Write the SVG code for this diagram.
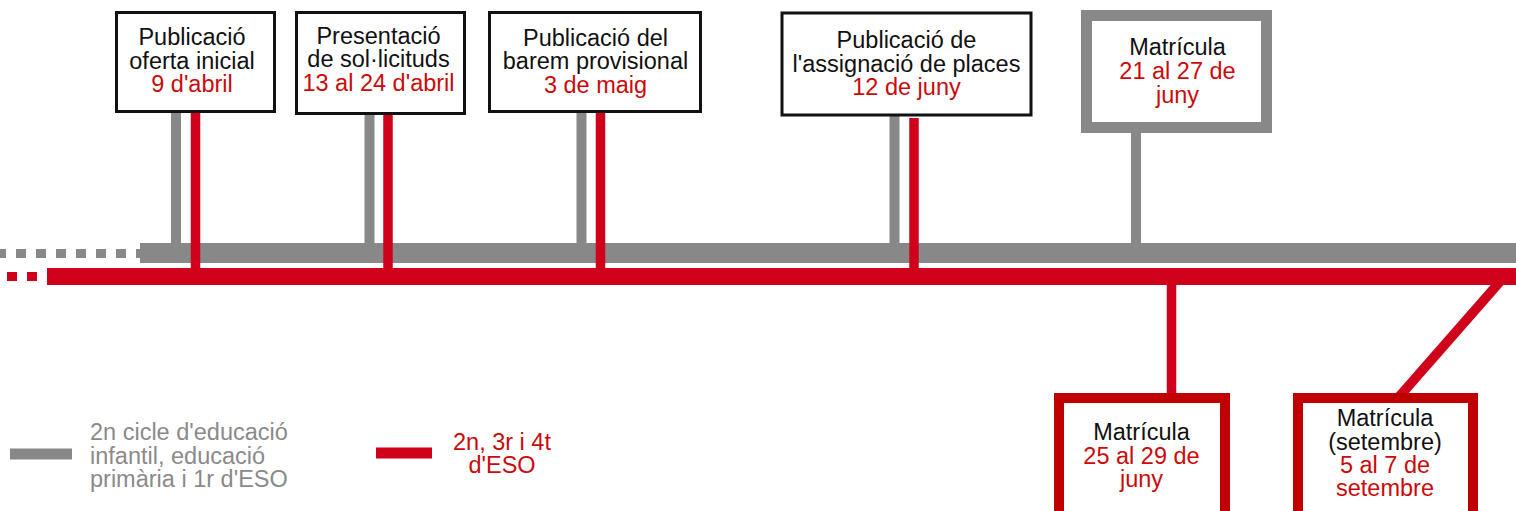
<svg xmlns="http://www.w3.org/2000/svg" width="1516" height="511" viewBox="0 0 1516 511">
<style>
text{font-family:"Liberation Sans",Arial,sans-serif;font-size:23.5px;text-anchor:middle;fill:#111}
.r{fill:#cc0a0a}
.g{fill:#8a8a8a}
.bk{fill:#fff;stroke:#111;stroke-width:3}
.gb{fill:#fff;stroke:#888;stroke-width:11}
.rb{fill:#fff;stroke:#c00000;stroke-width:10}
.gs{stroke:#888;stroke-width:10}
.rs{stroke:#d0021b;stroke-width:9.5}
</style>
<rect width="1516" height="511" fill="#fff"/>
<g id="connectors">
<line x1="-4" y1="253.5" x2="140" y2="253.5" stroke="#888" stroke-width="9" stroke-dasharray="10 10"/>
<rect x="140" y="243" width="1376" height="20" fill="#888"/>
<line class="gs" x1="176" y1="112" x2="176" y2="245"/>
<line class="gs" x1="369.5" y1="114" x2="369.5" y2="245"/>
<line class="gs" x1="581.5" y1="112" x2="581.5" y2="245"/>
<line class="gs" x1="894.5" y1="116" x2="894.5" y2="245"/>
<line class="gs" x1="1136" y1="132" x2="1136" y2="245"/>
<line x1="7" y1="276.5" x2="40" y2="276.5" stroke="#d0021b" stroke-width="9" stroke-dasharray="10 10"/>
<rect x="47" y="268" width="1469" height="17" fill="#d0021b"/>
<line class="rs" x1="195.5" y1="112" x2="195.5" y2="270"/>
<line class="rs" x1="388" y1="114" x2="388" y2="270"/>
<line class="rs" x1="600.5" y1="112" x2="600.5" y2="270"/>
<line class="rs" x1="914" y1="118" x2="914" y2="270"/>
<line class="rs" x1="1171.5" y1="283" x2="1171.5" y2="396"/>
<line class="rs" x1="1504.5" y1="276.5" x2="1398" y2="398" stroke-width="10"/>
</g>
<g id="n1">
<rect class="bk" x="116.5" y="12.5" width="158" height="99"/>
<text x="192" y="45">Publicació</text>
<text x="192" y="68.5">oferta inicial</text>
<text class="r" x="192" y="92">9 d'abril</text>
</g>
<g id="n2">
<rect class="bk" x="296.5" y="12.5" width="168" height="101"/>
<text x="378.5" y="43.5">Presentació</text>
<text x="378.5" y="67">de sol·licituds</text>
<text class="r" x="378.5" y="90.5">13 al 24 d'abril</text>
</g>
<g id="n3">
<rect class="bk" x="489.5" y="12.5" width="211" height="99"/>
<text x="595.5" y="45.5">Publicació del</text>
<text x="595.5" y="69">barem provisional</text>
<text class="r" x="595.5" y="92.5">3 de maig</text>
</g>
<g id="n4">
<rect class="bk" x="782" y="13" width="249" height="102" stroke-width="4"/>
<text x="906.5" y="48">Publicació de</text>
<text x="906.5" y="71.5">l'assignació de places</text>
<text class="r" x="906.5" y="95">12 de juny</text>
</g>
<g id="n5">
<rect class="gb" x="1086.5" y="15.5" width="180" height="112"/>
<text x="1177.5" y="55">Matrícula</text>
<text class="r" x="1177.5" y="79">21 al 27 de</text>
<text class="r" x="1177.5" y="102.5">juny</text>
</g>
<g id="n6">
<rect class="rb" x="1059" y="398" width="166" height="125"/>
<text x="1141.5" y="440">Matrícula</text>
<text class="r" x="1141.5" y="463.5">25 al 29 de</text>
<text class="r" x="1141.5" y="487">juny</text>
</g>
<g id="n7">
<rect class="rb" x="1298" y="398" width="175" height="125"/>
<text x="1385" y="426">Matrícula</text>
<text x="1385" y="449.5">(setembre)</text>
<text class="r" x="1385" y="473">5 al 7 de</text>
<text class="r" x="1385" y="496">setembre</text>
</g>
<g id="legend">
<rect x="10" y="448.5" width="62" height="11" fill="#888"/>
<text class="g" x="90" y="440" style="text-anchor:start">2n cicle d'educació</text>
<text class="g" x="90" y="463.5" style="text-anchor:start">infantil, educació</text>
<text class="g" x="90" y="487" style="text-anchor:start">primària i 1r d'ESO</text>
<rect x="376" y="447.5" width="56" height="11" fill="#d0021b"/>
<text class="r" x="502" y="449.5">2n, 3r i 4t</text>
<text class="r" x="502" y="473">d'ESO</text>
</g>
</svg>
